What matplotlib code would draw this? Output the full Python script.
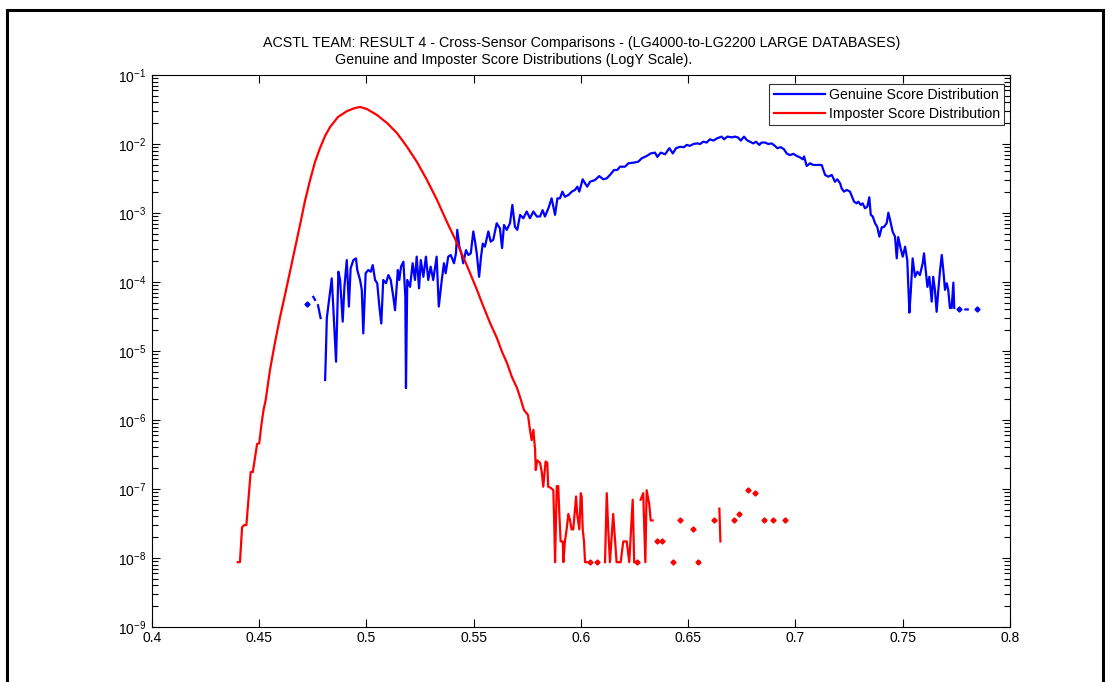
import numpy as np
import matplotlib
matplotlib.use("Agg")
import matplotlib.pyplot as plt
from matplotlib.patches import Rectangle
from matplotlib.ticker import FixedLocator, LogLocator, FuncFormatter, NullFormatter

plt.rcParams['font.family'] = ['Liberation Sans', 'DejaVu Sans']
plt.rcParams['mathtext.fontset'] = 'custom'
plt.rcParams['mathtext.rm'] = 'Liberation Sans'
plt.rcParams['mathtext.default'] = 'regular'

title_1 = 'ACSTL TEAM: RESULT 4 - Cross-Sensor Comparisons - (LG4000-to-LG2200 LARGE DATABASES)'
title_2 = 'Genuine and Imposter Score Distributions (LogY Scale).'
labels = ['Genuine Score Distribution', 'Imposter Score Distribution']
nan = np.nan

# genuine scores (nan = empty bin)
gen_x = [0.4721, 0.4737, 0.4752, 0.4760, 0.4767, 0.4774, 0.4786, 0.4797,
         0.4807, 0.4811, 0.4815, 0.4838, 0.4845, 0.4858, 0.4869, 0.4877, 0.4889, 0.4897,
         0.4908, 0.4918, 0.4926, 0.4939, 0.4951, 0.4957, 0.4970, 0.4978, 0.4985, 0.4996,
         0.5008, 0.5020, 0.5029, 0.5040, 0.5050, 0.5060, 0.5069, 0.5078, 0.5091, 0.5102,
         0.5113, 0.5125, 0.5133, 0.5146, 0.5153, 0.5161, 0.5172, 0.5181, 0.5184, 0.5190,
         0.5203, 0.5215, 0.5226, 0.5234, 0.5245, 0.5253, 0.5265, 0.5277, 0.5288, 0.5299,
         0.5311, 0.5327, 0.5337, 0.5351, 0.5361, 0.5369, 0.5381, 0.5393, 0.5402, 0.5408,
         0.5417, 0.5423, 0.5433, 0.5444, 0.5451, 0.5464, 0.5475, 0.5486, 0.5498, 0.5506,
         0.5514, 0.5525, 0.5534, 0.5542, 0.5552, 0.5568, 0.5579, 0.5591, 0.5607, 0.5622,
         0.5632, 0.5641, 0.5654, 0.5669, 0.5680, 0.5692, 0.5703, 0.5716, 0.5731, 0.5747,
         0.5762, 0.5778, 0.5794, 0.5809, 0.5821, 0.5832, 0.5848, 0.5863, 0.5879, 0.5890,
         0.5902, 0.5913, 0.5925, 0.5941, 0.5957, 0.5972, 0.5983, 0.5992, 0.6008, 0.6019,
         0.6029, 0.6042, 0.6065, 0.6085, 0.6104, 0.6120, 0.6135, 0.6154, 0.6169, 0.6182,
         0.6205, 0.6221, 0.6244, 0.6267, 0.6283, 0.6306, 0.6325, 0.6345, 0.6356, 0.6372,
         0.6392, 0.6412, 0.6428, 0.6443, 0.6462, 0.6480, 0.6493, 0.6508, 0.6524, 0.6542,
         0.6555, 0.6570, 0.6586, 0.6601, 0.6617, 0.6635, 0.6656, 0.6667, 0.6682, 0.6703,
         0.6718, 0.6733, 0.6745, 0.6760, 0.6773, 0.6788, 0.6803, 0.6816, 0.6831, 0.6842,
         0.6858, 0.6873, 0.6889, 0.6904, 0.6915, 0.6931, 0.6946, 0.6959, 0.6974, 0.6990,
         0.7006, 0.7021, 0.7034, 0.7040, 0.7052, 0.7068, 0.7083, 0.7099, 0.7122, 0.7138,
         0.7153, 0.7169, 0.7184, 0.7195, 0.7208, 0.7215, 0.7226, 0.7239, 0.7254, 0.7273,
         0.7285, 0.7293, 0.7304, 0.7313, 0.7324, 0.7335, 0.7344, 0.7351, 0.7360, 0.7371,
         0.7381, 0.7391, 0.7402, 0.7413, 0.7425, 0.7433, 0.7441, 0.7453, 0.7464, 0.7472,
         0.7479, 0.7490, 0.7500, 0.7511, 0.7521, 0.7531, 0.7537, 0.7546, 0.7557, 0.7568,
         0.7580, 0.7593, 0.7599, 0.7607, 0.7615, 0.7624, 0.7635, 0.7642, 0.7650, 0.7658,
         0.7666, 0.7674, 0.7682, 0.7689, 0.7697, 0.7705, 0.7712, 0.7720, 0.7728, 0.7736,
         0.7740, 0.7752, 0.7764, 0.7772, 0.7792, 0.7803, 0.7815, 0.7830, 0.7845]
gen_y = [4.8e-5, nan, 6.1e-5, 5.5e-5, nan, 4.6e-5, 3.0e-5, nan,
         3.8e-6, 1.0e-5, 3.0e-5, 1.13e-4, 4.4e-5, 7.0e-6, 1.41e-4, 1.07e-4, 2.66e-5, 8.5e-5,
         2.08e-4, 4.4e-5, 1.58e-4, 2.08e-4, 2.2e-4, 1.49e-4, 1.07e-4, 7.7e-5, 1.8e-5, 1.34e-4,
         1.49e-4, 1.41e-4, 1.76e-4, 1.07e-4, 9.6e-5, 4.4e-5, 2.5e-5, 1.07e-4, 9.6e-5, 1.26e-4,
         1.07e-4, 6.1e-5, 3.9e-5, 1.49e-4, 1.07e-4, 1.67e-4, 1.97e-4, 6.1e-5, 2.9e-6, 1.07e-4,
         8.5e-5, 1.87e-4, 1.07e-4, 2.33e-4, 8.1e-5, 2.08e-4, 1.19e-4, 2.33e-4, 1.07e-4, 1.67e-4,
         1.07e-4, 2.33e-4, 4.4e-5, 1.07e-4, 1.87e-4, 1.34e-4, 2.33e-4, 2.46e-4, 2.08e-4, 1.87e-4,
         2.6e-4, 5.7e-4, 3.25e-4, 2.46e-4, 1.87e-4, 2.9e-4, 2.46e-4, 2.6e-4, 5.4e-4, 3.84e-4,
         2.6e-4, 1.19e-4, 2.33e-4, 3.6e-4, 3.25e-4, 5.4e-4, 3.84e-4, 4.1e-4, 7.1e-4, 6.0e-4,
         3.1e-4, 6.7e-4, 5.7e-4, 7.1e-4, 1.31e-3, 6.3e-4, 5.7e-4, 9.4e-4, 8.4e-4, 1.05e-3,
         8.4e-4, 1.05e-3, 8.9e-4, 8.9e-4, 1.1e-3, 8.9e-4, 1.17e-3, 1.63e-3, 9.4e-4, 1.63e-3,
         1.63e-3, 2.04e-3, 1.72e-3, 1.82e-3, 2.04e-3, 2.16e-3, 2.41e-3, 2.04e-3, 3.08e-3, 2.69e-3,
         2.41e-3, 2.84e-3, 3.0e-3, 3.43e-3, 3.08e-3, 3.18e-3, 3.56e-3, 4.2e-3, 4.2e-3, 4.69e-3,
         4.69e-3, 5.25e-3, 5.36e-3, 5.54e-3, 6.2e-3, 6.7e-3, 7.3e-3, 7.5e-3, 6.5e-3, 7.5e-3,
         7.1e-3, 8.7e-3, 7.3e-3, 8.7e-3, 9.1e-3, 9.0e-3, 9.7e-3, 9.4e-3, 1.0e-2, 1.02e-2,
         1.0e-2, 1.08e-2, 1.05e-2, 1.17e-2, 1.12e-2, 1.21e-2, 1.28e-2, 1.17e-2, 1.28e-2, 1.25e-2,
         1.28e-2, 1.24e-2, 1.12e-2, 1.28e-2, 1.14e-2, 1.08e-2, 1.02e-2, 1.08e-2, 9.7e-3, 1.05e-2,
         1.05e-2, 1.0e-2, 1.02e-2, 9.4e-3, 8.7e-3, 9.0e-3, 8.4e-3, 7.3e-3, 6.9e-3, 7.2e-3,
         6.7e-3, 6.4e-3, 6.0e-3, 6.6e-3, 4.8e-3, 5.25e-3, 4.97e-3, 4.97e-3, 4.97e-3, 3.56e-3,
         3.36e-3, 3.56e-3, 2.84e-3, 3.08e-3, 2.69e-3, 2.28e-3, 2.04e-3, 2.16e-3, 2.04e-3, 1.46e-3,
         1.38e-3, 1.46e-3, 1.31e-3, 1.38e-3, 1.17e-3, 1.24e-3, 1.69e-3, 9.4e-4, 8.9e-4, 7.1e-4,
         6.3e-4, 4.54e-4, 6.2e-4, 6.3e-4, 7.1e-4, 1.01e-3, 7.9e-4, 5.36e-4, 4.54e-4, 2.2e-4,
         4.47e-4, 3.08e-4, 2.33e-4, 3.25e-4, 2.08e-4, 3.6e-5, 6.9e-5, 2.2e-4, 1.19e-4, 1.41e-4,
         1.26e-4, 1.87e-4, 2.6e-4, 1.49e-4, 8.5e-5, 1.19e-4, 5.2e-5, 1.19e-4, 7.7e-5, 3.7e-5,
         7.7e-5, 1.49e-4, 2.46e-4, 1.49e-4, 7.7e-5, 9.6e-5, 7.7e-5, 4.2e-5, 4.2e-5, 9.8e-5,
         4.2e-5, nan, 4.0e-5, nan, 4.0e-5, 4.0e-5, nan, nan, 4.0e-5]

# imposter scores (nan = empty bin)
imp_x = [0.4400, 0.4410, 0.4420, 0.4430, 0.4440, 0.4450, 0.4460, 0.4470, 0.4480, 0.4490,
         0.4500, 0.4510, 0.4520, 0.4530, 0.4550, 0.4573, 0.4597, 0.4620, 0.4643, 0.4667,
         0.4690, 0.4713, 0.4737, 0.4760, 0.4783, 0.4807, 0.4830, 0.4867, 0.4909, 0.4946,
         0.4970, 0.5002, 0.5049, 0.5096, 0.5142, 0.5189, 0.5235, 0.5282, 0.5329, 0.5375,
         0.5422, 0.5469, 0.5515, 0.5538, 0.5576, 0.5608, 0.5632, 0.5655, 0.5678, 0.5702,
         0.5720, 0.5734, 0.5753, 0.5762, 0.5770, 0.5778, 0.5786, 0.5789, 0.5796, 0.5809,
         0.5817, 0.5824, 0.5835, 0.5843, 0.5847, 0.5859, 0.5871, 0.5876, 0.5879, 0.5887,
         0.5894, 0.5899, 0.5905, 0.5915, 0.5918, 0.5925, 0.5933, 0.5941, 0.5949, 0.5956,
         0.5964, 0.5977, 0.5982, 0.5992, 0.5999, 0.6003, 0.6008, 0.6014, 0.6019, 0.6027,
         0.6035, 0.6042, 0.6058, 0.6073, 0.6090, 0.6112, 0.6120, 0.6127, 0.6135, 0.6150,
         0.6159, 0.6166, 0.6185, 0.6197, 0.6213, 0.6225, 0.6241, 0.6248, 0.6255, 0.6262,
         0.6270, 0.6278, 0.6290, 0.6300, 0.6306, 0.6318, 0.6325, 0.6334, 0.6344, 0.6353,
         0.6366, 0.6379, 0.6400, 0.6430, 0.6446, 0.6462, 0.6490, 0.6524, 0.6535, 0.6545,
         0.6580, 0.6621, 0.6633, 0.6645, 0.6650, 0.6680, 0.6715, 0.6725, 0.6735, 0.6760,
         0.6780, 0.6795, 0.6811, 0.6830, 0.6853, 0.6870, 0.6894, 0.6920, 0.6951]
imp_y = [8.7e-9, 8.7e-9, 2.8e-8, 3.0e-8, 3.0e-8, 7.4e-8, 1.76e-7, 1.76e-7, 2.8e-7, 4.5e-7,
         4.6e-7, 8.5e-7, 1.4e-6, 1.95e-6, 5.3e-6, 1.31e-5, 3.1e-5, 6.5e-5, 1.40e-4, 3.1e-4,
         6.7e-4, 1.49e-3, 3.0e-3, 5.5e-3, 8.7e-3, 1.31e-2, 1.76e-2, 2.46e-2, 3.0e-2, 3.32e-2,
         3.44e-2, 3.21e-2, 2.63e-2, 2.01e-2, 1.44e-2, 9.1e-3, 5.5e-3, 3.0e-3, 1.54e-3, 7.4e-4,
         3.67e-4, 1.71e-4, 7.7e-5, 5.0e-5, 2.55e-5, 1.54e-5, 9.7e-6, 6.7e-6, 4.2e-6, 2.9e-6,
         1.95e-6, 1.40e-6, 1.18e-6, 7.2e-7, 5.1e-7, 7.2e-7, 3.67e-7, 1.88e-7, 2.6e-7, 2.4e-7,
         1.78e-7, 1.08e-7, 2.5e-7, 2.4e-7, 1.08e-7, 1.04e-7, 9.6e-8, 2.6e-8, 8.7e-9, 1.1e-7,
         1.1e-7, 4.35e-8, 1.74e-8, 1.74e-8, 8.7e-9, 1.74e-8, 2.6e-8, 4.35e-8, 3.5e-8, 2.6e-8,
         2.6e-8, 7.8e-8, 4.35e-8, 2.6e-8, 8.7e-8, 7.8e-8, 2.6e-8, 1.74e-8, 8.7e-9, 8.7e-9,
         nan, 8.7e-9, nan, 8.7e-9, nan, 8.7e-9, 8.7e-8, 2.6e-8, 8.7e-9, 4.35e-8,
         1.74e-8, 8.7e-9, 8.7e-9, 1.74e-8, 1.74e-8, 8.7e-9, 7.0e-8, 8.7e-9, nan, 8.7e-9,
         nan, 7.0e-8, 8.7e-8, 8.7e-9, 9.6e-8, 6.1e-8, 3.5e-8, 3.5e-8, nan, 1.74e-8,
         nan, 1.74e-8, nan, 8.7e-9, nan, 3.5e-8, nan, 2.6e-8, nan, 8.7e-9,
         nan, 3.5e-8, nan, 5.2e-8, 1.74e-8, nan, 3.5e-8, nan, 4.35e-8, nan,
         9.6e-8, nan, 8.7e-8, nan, 3.5e-8, nan, 3.5e-8, nan, 3.5e-8]

xt = [0.4, 0.45, 0.5, 0.55, 0.6, 0.65, 0.7, 0.75, 0.8]
yt = [1e-9, 1e-8, 1e-7, 1e-6, 1e-5, 1e-4, 1e-3, 1e-2, 1e-1]


def lonely(y):
    # points with an empty bin on both sides, drawn as dots
    y = np.asarray(y, dtype=float)
    ok = np.isfinite(y)
    left = np.concatenate([[False], ok[:-1]])
    right = np.concatenate([ok[1:], [False]])
    return ok & ~left & ~right


fig = plt.figure(figsize=(11.09, 6.82), dpi=100)
ax = fig.add_axes([152 / 1109, 1 - 627 / 682, 858 / 1109, 552 / 682])

for xs, ys, c, lab in [(gen_x, gen_y, 'blue', labels[0]), (imp_x, imp_y, 'red', labels[1])]:
    xs = np.asarray(xs)
    ys = np.asarray(ys)
    ax.plot(xs, ys, color=c, lw=1.6, label=lab)
    m = lonely(ys)
    ax.plot(xs[m], ys[m], ls='none', marker='D', ms=2.6, color=c)

ax.set_yscale('log')
ax.set_xlim(0.4, 0.8)
ax.set_ylim(1e-9, 1e-1)

ax.xaxis.set_major_locator(FixedLocator(xt))
ax.xaxis.set_major_formatter(FuncFormatter(lambda v, p: '%g' % v))
ax.yaxis.set_major_locator(FixedLocator(yt))
minor = [m * t for t in yt[:-1] for m in range(2, 10)]
ax.yaxis.set_minor_locator(FixedLocator(minor))
ax.yaxis.set_minor_formatter(NullFormatter())
ax.yaxis.set_major_formatter(FuncFormatter(lambda v, p: r'$10^{%d}$' % round(np.log10(v))))

ax.tick_params(which='both', direction='in', top=True, right=True, labelsize=10,
               width=0.8, colors='black')
ax.tick_params(which='major', length=6)
ax.tick_params(axis='x', which='major', pad=3)
ax.tick_params(axis='y', which='major', pad=4)
ax.tick_params(which='minor', length=4)
for s in ax.spines.values():
    s.set_linewidth(0.8)

leg = ax.legend(loc='upper right', bbox_to_anchor=(0.9934, 0.9837), fontsize=10.2,
                frameon=True, fancybox=False, borderaxespad=0, handlelength=3.6,
                handletextpad=0.3, borderpad=0.3, labelspacing=0.35)
leg.get_frame().set_edgecolor('black')
leg.get_frame().set_linewidth(0.8)

fig.text(582 / 1109, 1 - 43 / 682, title_1, ha='center', va='center', fontsize=10.3)
fig.text(514 / 1109, 1 - 60 / 682, title_2, ha='center', va='center', fontsize=10.3)

# frame round the whole window
fig.add_artist(Rectangle((7 / 1109, -0.1), 1096 / 1109, 1.1 - 10 / 682,
                         transform=fig.transFigure, fill=False, lw=2.2,
                         edgecolor='black', clip_on=False))

fig.savefig('out.png', dpi=100)
